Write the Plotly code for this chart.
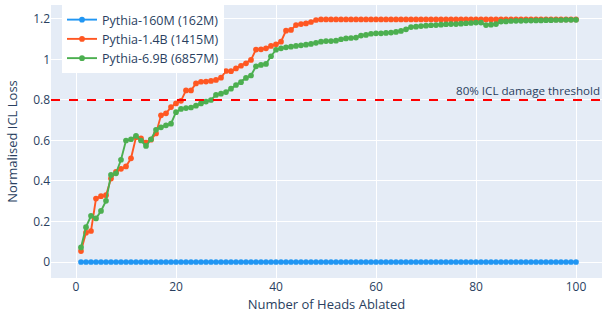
import plotly.graph_objects as go

heads = list(range(1, 101))

pythia_160m = [0.0] * 100

pythia_1_4b = [
    0.054, 0.145, 0.153, 0.313, 0.325, 0.330, 0.412, 0.445, 0.460, 0.472,
    0.512, 0.616, 0.611, 0.590, 0.604, 0.635, 0.724, 0.734, 0.765, 0.783,
    0.796, 0.847, 0.847, 0.882, 0.890, 0.891, 0.894, 0.899, 0.910, 0.943,
    0.942, 0.956, 0.969, 0.981, 0.998, 1.049, 1.050, 1.055, 1.067, 1.075,
    1.088, 1.142, 1.146, 1.170, 1.175, 1.178, 1.185, 1.195, 1.198, 1.198,
] + [1.198] * 50

pythia_6_9b = [
    0.072, 0.172, 0.228, 0.215, 0.252, 0.302, 0.430, 0.438, 0.505, 0.600,
    0.606, 0.623, 0.600, 0.573, 0.606, 0.653, 0.665, 0.675, 0.683, 0.740,
    0.756, 0.760, 0.763, 0.772, 0.783, 0.792, 0.800, 0.825, 0.831, 0.839,
    0.856, 0.874, 0.888, 0.909, 0.921, 0.966, 0.973, 0.978, 1.016, 1.048,
    1.055, 1.060, 1.063, 1.067, 1.070, 1.073, 1.077, 1.082, 1.088, 1.091,
    1.091, 1.093, 1.100, 1.104, 1.106, 1.108, 1.118, 1.121, 1.127, 1.129,
    1.129, 1.131, 1.133, 1.136, 1.141, 1.149, 1.160, 1.162, 1.165, 1.167,
    1.169, 1.170, 1.172, 1.174, 1.175, 1.175, 1.177, 1.179, 1.180, 1.182,
    1.182, 1.170, 1.172, 1.175, 1.187, 1.188, 1.190, 1.191, 1.191, 1.192,
    1.192, 1.193, 1.193, 1.194, 1.194, 1.195, 1.195, 1.196, 1.196, 1.196,
]

series_names = ["Pythia-160M (162M)", "Pythia-1.4B (1415M)", "Pythia-6.9B (6857M)"]
series_values = [pythia_160m, pythia_1_4b, pythia_6_9b]
series_colors = ["#2196F3", "#FF5722", "#4CAF50"]

threshold = 0.8
threshold_label = "80% ICL damage threshold"

fig = go.Figure()
for name, vals, col in zip(series_names, series_values, series_colors):
    fig.add_trace(go.Scatter(
        x=heads, y=vals, mode="lines+markers", name=name,
        line=dict(color=col, width=1.9), marker=dict(color=col, size=5.7),
    ))

fig.add_hline(y=threshold, line=dict(color="red", width=2, dash="dash"),
              annotation_text=threshold_label, annotation_position="top right",
              annotation_font=dict(size=11.6, color="#2a3f5f"))

fig.update_layout(
    template="plotly",
    width=603, height=320,
    font=dict(size=12),
    margin=dict(l=51, r=1, t=5, b=42),
    xaxis=dict(title=dict(text="Number of Heads Ablated", font=dict(size=13),
                          standoff=5),
               automargin=True,
               range=[-5, 105.2], tickvals=[0, 20, 40, 60, 80, 100], zeroline=False),
    yaxis=dict(title=dict(text="Normalised ICL Loss", font=dict(size=13),
                          standoff=12),
               automargin=True,
               range=[-0.079, 1.269],
               tickvals=[0, 0.2, 0.4, 0.6, 0.8, 1, 1.2], zeroline=False),
    legend=dict(x=0.02, y=1, xanchor="left", yanchor="top",
                bgcolor="rgba(255,255,255,1)", font=dict(size=12.5)),
    showlegend=True,
)

fig.write_html("out.html")
